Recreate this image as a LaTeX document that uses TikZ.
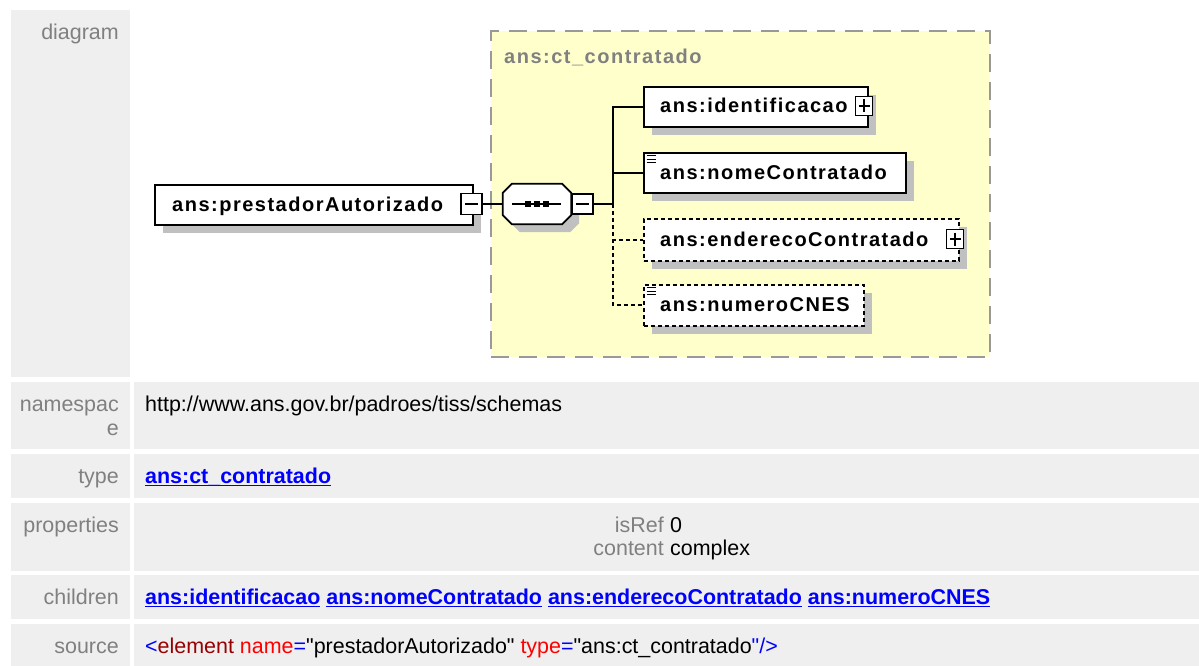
\documentclass[tikz,border=0pt]{standalone}
\usepackage{fontspec}
\setmainfont{Liberation Sans}[Ligatures=TeXOff]
\definecolor{rowgrey}{RGB}{239,239,239}
\definecolor{labgrey}{RGB}{128,128,128}
\definecolor{shadegrey}{RGB}{192,192,192}
\definecolor{boxyellow}{RGB}{255,255,204}
\definecolor{framegrey}{RGB}{153,153,153}
\definecolor{linkblue}{RGB}{0,0,255}
\definecolor{xmlred}{RGB}{255,0,0}
\definecolor{xmlmaroon}{RGB}{153,0,0}
\newcommand\dgfont{\fontsize{20}{24}\selectfont\bfseries\addfontfeature{LetterSpace=7.5}}
\newcommand\tbfont{\fontsize{21.45}{24}\selectfont}
\newcommand\ulk[1]{\vtop{\hbox{\raisebox{0pt}[\height][0pt]{#1}}\kern1.5pt\hrule height1.4pt}}
\tikzset{
  shade8/.style={preaction={fill=shadegrey, transform canvas={xshift=8pt,yshift=-8pt}}},
  ebox/.style={draw, line width=1.7pt, fill=white, inner sep=0pt, anchor=north west, shade8},
  obox/.style={ebox, dash pattern=on 4pt off 3pt, line width=1.5pt},
  exbox/.style={draw, line width=1.3pt, fill=white, inner sep=0pt},
  minusbox/.style={exbox, path picture={\draw[line width=1.2pt] ([xshift=4pt]path picture bounding box.west) -- ([xshift=-4pt]path picture bounding box.east);}},
  plusbox/.style={exbox, path picture={\draw[line width=1.2pt] ([xshift=3pt]path picture bounding box.west) -- ([xshift=-3pt]path picture bounding box.east); \draw[line width=1.2pt] ([yshift=-3pt]path picture bounding box.north) -- ([yshift=3pt]path picture bounding box.south);}},
  octpath/.style={insert path={([xshift=9pt]#1.north west) -- ([xshift=-9pt]#1.north east) -- ([yshift=-9pt]#1.north east) -- ([yshift=9pt]#1.south east) -- ([xshift=-9pt]#1.south east) -- ([xshift=9pt]#1.south west) -- ([yshift=9pt]#1.south west) -- ([yshift=-9pt]#1.north west) -- cycle}},
  conn/.style={line width=1.7pt},
  optconn/.style={line width=1.7pt, dash pattern=on 4pt off 3pt},
  dgt/.style={font=\dgfont, inner sep=0pt, text=black, anchor=base west},
  lab/.style={font=\tbfont, text=labgrey, inner sep=0pt, anchor=base east},
  val/.style={font=\tbfont, text=black, inner sep=0pt, anchor=base west},
  lnk/.style={font=\tbfont\bfseries, text=linkblue, inner sep=0pt, anchor=base west},
}
\begin{document}
\begin{tikzpicture}[x=1pt,y=-1pt]
\useasboundingbox (0,0) rectangle (1199,666);
\fill[white] (0,0) rectangle (1199,666);
% table cells
\fill[rowgrey] (11,10) rectangle (130,377);
\fill[rowgrey] (11,382) rectangle (130,449);
\fill[rowgrey] (134,382) rectangle (1199,449);
\fill[rowgrey] (11,454) rectangle (130,498);
\fill[rowgrey] (134,454) rectangle (1199,498);
\fill[rowgrey] (11,503) rectangle (130,571);
\fill[rowgrey] (134,503) rectangle (1199,571);
\fill[rowgrey] (11,575) rectangle (130,619);
\fill[rowgrey] (134,575) rectangle (1199,619);
\fill[rowgrey] (11,624) rectangle (130,666);
\fill[rowgrey] (134,624) rectangle (1199,666);
% labels
\node[lab] (labdiag) at (119,40) {diagram};
\node[lab] (labns) at (119,411) {namespac};
\node[lab] (labns2) at (119,435) {e};
\node[lab] (labtype) at (119,483) {type};
\node[lab] (labprop) at (119,532) {properties};
\node[lab] (labchild) at (119,604) {children};
\node[lab] (labsrc) at (119,653) {source};
% values
\node[val] (vns) at (145,411) {http://www.ans.gov.br/padroes/tiss/schemas};
\node[lnk] (vtype) at (145,483) {\ulk{ans:ct\_contratado}};
\node[lab] (pisref) at (664,532) {isRef};
\node[val] (visref) at (670,532) {0};
\node[lab] (pcont) at (664,555) {content};
\node[val] (vcont) at (670,555) {complex};
\node[lnk] (vchild) at (145,604) {\ulk{ans:identificacao} \ulk{ans:nomeContratado} \ulk{ans:enderecoContratado} \ulk{ans:numeroCNES}};
\node[val] (vsrc) at (145,653) {\textcolor{linkblue}{<}\textcolor{xmlmaroon}{element} \textcolor{xmlred}{name}\textcolor{linkblue}{=}"prestadorAutorizado" \textcolor{xmlred}{type}\textcolor{linkblue}{=}"ans:ct\_contratado\textcolor{linkblue}{"/>}};
% diagram: complex type container
\node[draw=framegrey, fill=boxyellow, dash pattern=on 18pt off 10pt, line width=2pt, minimum width=499pt, minimum height=326pt, inner sep=0pt, anchor=north west] (ct) at (490,30) {};
\node[dgt, text=labgrey] (cttitle) at (504,64) {ans:ct\_contratado};
% main element
\node[ebox, minimum width=318pt, minimum height=40pt] (main) at (154,184) {};
\node[dgt] (tmain) at (172,211) {ans:prestadorAutorizado};
\node[minusbox, minimum width=21pt, minimum height=21pt] (mainexp) at (471.5,204) {};
% sequence compositor
\node[inner sep=0pt, minimum width=68pt, minimum height=40pt] (seq) at (537,204) {};
\fill[shadegrey, transform canvas={xshift=8pt,yshift=-8pt}, octpath=seq];
\draw[fill=white, line width=1.7pt, octpath=seq];
\draw[line width=1.4pt] ([xshift=-25pt]seq.center) -- ([xshift=24pt]seq.center);
\foreach \dx in {-9,0,9} \fill ([xshift=\dx pt]seq.center) ++(-2.6,-2.6) rectangle ++(5.2,5.2);
\node[minusbox, minimum width=21pt, minimum height=20pt, anchor=west] (seqexp) at (seq.east) {};
\coordinate (jn) at (613,204);
% children
\node[ebox, minimum width=224pt, minimum height=40pt] (ident) at (643,86) {};
\node[dgt] (tident) at (660,113) {ans:identificacao};
\node[plusbox, minimum width=17pt, minimum height=19pt] (identexp) at (864,106) {};
\node[ebox, minimum width=262pt, minimum height=40pt] (nome) at (643,152) {};
\node[dgt] (tnome) at (660,179) {ans:nomeContratado};
\node[obox, minimum width=315pt, minimum height=42pt] (ender) at (643,218) {};
\node[dgt] (tender) at (660,246) {ans:enderecoContratado};
\node[plusbox, minimum width=17pt, minimum height=19pt] (enderexp) at (955,239) {};
\node[obox, minimum width=220pt, minimum height=41pt] (cnes) at (643,284) {};
\node[dgt] (tcnes) at (660,311) {ans:numeroCNES};
% simple-content icons
\foreach \n in {nome,cnes}{
  \foreach \dy in {3.5,7,10.5}
    \draw[line width=1pt] ([xshift=3.5pt,yshift=-\dy pt]\n.north west) -- ++(9,0);
}
% connectors
\draw[conn] (mainexp.east) -- (seq.west);
\draw[conn] (seqexp.east) -- (jn);
\draw[conn] (jn) |- (ident.west);
\draw[conn] (jn) |- (nome.west);
\draw[optconn] (jn) |- (ender.west);
\draw[optconn] (jn) |- (cnes.west);
\end{tikzpicture}
\end{document}
